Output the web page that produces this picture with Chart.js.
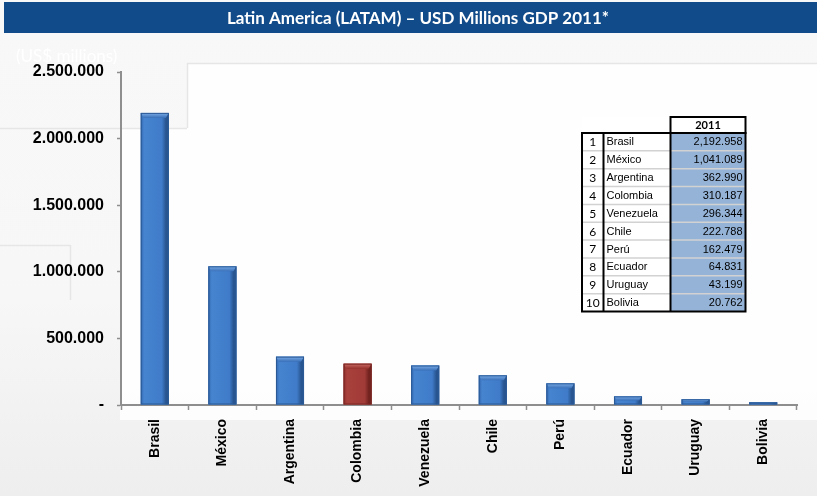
<!DOCTYPE html>
<html>
<head>
<meta charset="utf-8">
<title>Latin America (LATAM) – USD Millions GDP 2011*</title>
<script src="https://cdn.jsdelivr.net/npm/chart.js@4/dist/chart.umd.min.js"></script>
<style>
  html, body { margin: 0; padding: 0; background: #f7f7f7; overflow: hidden; }
  #wrap { width: 817px; height: 496px; position: relative; }
  canvas { display: block; }
</style>
</head>
<body>
<div id="wrap"><canvas id="gdp" width="817" height="496"></canvas></div>
<script>
// Countries and 2011 GDP (USD millions)
const countries = ['Brasil', 'México', 'Argentina', 'Colombia', 'Venezuela', 'Chile', 'Perú', 'Ecuador', 'Uruguay', 'Bolivia'];
const gdp2011 = [2192958, 1041089, 362990, 310187, 296344, 222788, 162479, 64831, 43199, 20762];
const highlighted = 'Colombia';

// Y axis tick labels, from 0 to 2.500.000 in steps of 500.000
const yTickLabels = ['-', '500.000', '1.000.000', '1.500.000', '2.000.000', '2.500.000'];

const titleText = 'Latin America (LATAM) – USD Millions GDP 2011*';
const unitText = '(US$ millions)';
const tableYear = '2011';

// "2,192.958" style used in the ranking table
function tableNumber(v) {
  const millions = Math.floor(v / 1000000);
  const thousands = Math.floor((v % 1000000) / 1000);
  const units = v % 1000;
  const pad = n => String(n).padStart(3, '0');
  if (millions > 0) return millions + ',' + pad(thousands) + '.' + pad(units);
  return thousands + '.' + pad(units);
}

const BLUE = { base: '#3f7bc8', edgeL: '#3367ad', mid: '#4684d0', edgeR: '#28548f', cap: '#7aade8', capLow: '#3a70b8', line: '#2b5a96' };
const RED  = { base: '#a13b37', edgeL: '#8c2f2c', mid: '#a8403b', edgeR: '#72221f', cap: '#cc6a64', capLow: '#96332f', line: '#7a2724' };
const paletteFor = name => (name === highlighted ? RED : BLUE);

// Page backdrop, title band and unit caption
const backdrop = {
  id: 'backdrop',
  beforeDraw(chart) {
    const ctx = chart.ctx;
    const W = chart.width, H = chart.height;
    ctx.save();
    const g = ctx.createLinearGradient(0, 0, 0, H);
    g.addColorStop(0, '#f8f8f8');
    g.addColorStop(0.6, '#f7f7f7');
    g.addColorStop(1, '#eeeeee');
    ctx.fillStyle = g;
    ctx.fillRect(0, 0, W, H);

    // lighter panel behind the plot
    ctx.fillStyle = 'rgba(255,255,255,0.85)';
    ctx.beginPath();
    ctx.moveTo(187, 63); ctx.lineTo(W, 63); ctx.lineTo(W, 420);
    ctx.lineTo(120, 420); ctx.lineTo(120, 128); ctx.lineTo(187, 128);
    ctx.closePath();
    ctx.fill();

    ctx.strokeStyle = '#e6e6e6';
    ctx.lineWidth = 1.5;
    ctx.beginPath();
    ctx.moveTo(187, 63.5); ctx.lineTo(W, 63.5);
    ctx.moveTo(187.5, 63); ctx.lineTo(187.5, 128);
    ctx.moveTo(0, 128.5); ctx.lineTo(187, 128.5);
    ctx.moveTo(0, 245.5); ctx.lineTo(70, 245.5);
    ctx.moveTo(70.5, 245); ctx.lineTo(70.5, 300);
    ctx.stroke();

    // title band
    ctx.fillStyle = '#124b89';
    ctx.fillRect(4, 2, W - 4, 31);
    let size = 20;
    ctx.font = 'bold ' + size + 'px Lato, "Open Sans", sans-serif';
    while (ctx.measureText(titleText).width > 384 && size > 10) {
      size -= 0.25;
      ctx.font = 'bold ' + size + 'px Lato, "Open Sans", sans-serif';
    }
    ctx.fillStyle = '#ffffff';
    ctx.textAlign = 'center';
    ctx.textBaseline = 'middle';
    ctx.fillText(titleText, 418, 19);

    // faint unit caption
    ctx.font = '17px Lato, "Open Sans", sans-serif';
    ctx.textAlign = 'left';
    ctx.fillStyle = '#ffffff';
    ctx.fillText(unitText, 16, 57);
    ctx.restore();
  }
};

// Bevelled shading on each bar, using the bar geometry from the chart
const bevel = {
  id: 'bevel',
  afterDatasetsDraw(chart) {
    const ctx = chart.ctx;
    const meta = chart.getDatasetMeta(0);
    ctx.save();
    meta.data.forEach((bar, i) => {
      const p = paletteFor(countries[i]);
      const w = bar.width;
      const l = bar.x - w / 2, r = bar.x + w / 2;
      const t = Math.min(bar.y, bar.base), b = Math.max(bar.y, bar.base);
      const h = b - t;
      const g = ctx.createLinearGradient(l, 0, r, 0);
      g.addColorStop(0, p.edgeL);
      g.addColorStop(0.12, p.mid);
      g.addColorStop(0.75, p.base);
      g.addColorStop(0.9, p.edgeR);
      g.addColorStop(1, p.edgeR);
      ctx.fillStyle = g;
      ctx.fillRect(l, t, w, h);
      // top cap
      const cap = Math.min(5, h / 2);
      const cg = ctx.createLinearGradient(0, t, 0, t + cap);
      cg.addColorStop(0, p.cap);
      cg.addColorStop(1, p.capLow);
      ctx.fillStyle = cg;
      ctx.beginPath();
      ctx.moveTo(l, t); ctx.lineTo(r, t);
      ctx.lineTo(r - 3, t + cap); ctx.lineTo(l + 3, t + cap);
      ctx.closePath();
      ctx.fill();
      ctx.strokeStyle = p.line;
      ctx.lineWidth = 1;
      ctx.strokeRect(l + 0.5, t + 0.5, w - 1, h - 1);
    });
    ctx.restore();
  }
};

// Ranking table in the upper right
const rankingTable = {
  id: 'rankingTable',
  afterDraw(chart) {
    const ctx = chart.ctx;
    const x0 = 582, xRank = 603.5, xName = 670.5, x1 = 745.5;
    const yHead = 117, yBody = 133, rowH = 17.85;
    const yEnd = yBody + rowH * countries.length;
    ctx.save();
    ctx.fillStyle = '#ffffff';
    ctx.fillRect(x0, yHead, x1 - x0, yEnd - yHead);
    ctx.fillStyle = '#95b3d7';
    ctx.fillRect(xName, yBody, x1 - xName, yEnd - yBody);

    // row separators
    ctx.strokeStyle = '#d2d2d2';
    ctx.lineWidth = 1.5;
    ctx.beginPath();
    for (let i = 1; i < countries.length; i++) {
      const y = yBody + rowH * i;
      ctx.moveTo(x0, y); ctx.lineTo(x1, y);
    }
    ctx.stroke();

    ctx.strokeStyle = '#000000';
    ctx.lineWidth = 2;
    ctx.strokeRect(xName, yHead, x1 - xName, yBody - yHead);
    ctx.strokeRect(x0, yBody, x1 - x0, yEnd - yBody);
    ctx.beginPath();
    ctx.moveTo(xRank, yBody); ctx.lineTo(xRank, yEnd);
    ctx.moveTo(xName, yBody); ctx.lineTo(xName, yEnd);
    ctx.stroke();

    ctx.fillStyle = '#000000';
    ctx.textBaseline = 'middle';
    ctx.font = 'bold 11px Lato, "Open Sans", sans-serif';
    ctx.textAlign = 'center';
    ctx.fillText(tableYear, (xName + x1) / 2, (yHead + yBody) / 2 + 0.5);

    countries.forEach((name, i) => {
      const cy = yBody + rowH * (i + 0.5) + 0.5;
      ctx.font = '12px Lato, "Open Sans", sans-serif';
      ctx.textAlign = 'center';
      ctx.fillText(String(i + 1), (x0 + xRank) / 2, cy);
      ctx.font = '11px "Liberation Sans", Arial, sans-serif';
      ctx.textAlign = 'left';
      ctx.fillText(name, xRank + 3, cy);
      ctx.textAlign = 'right';
      ctx.fillText(tableNumber(gdp2011[i]), x1 - 3, cy);
    });
    ctx.restore();
  }
};

const axisGray = '#8e8e8e';

new Chart(document.getElementById('gdp'), {
  type: 'bar',
  data: {
    labels: countries,
    datasets: [{
      label: 'GDP 2011',
      data: gdp2011,
      backgroundColor: countries.map(c => paletteFor(c).base),
      borderWidth: 0,
      categoryPercentage: 1,
      barPercentage: 0.415
    }]
  },
  options: {
    responsive: false,
    animation: false,
    devicePixelRatio: 1,
    layout: { padding: { top: 72, right: 20, bottom: 0, left: 0 } },
    plugins: {
      legend: { display: false },
      tooltip: { enabled: false },
      title: { display: false }
    },
    scales: {
      x: {
        grid: {
          display: true,
          offset: true,
          drawOnChartArea: false,
          drawTicks: true,
          tickLength: 5,
          tickWidth: 1.5,
          color: axisGray
        },
        border: { display: true, color: axisGray, width: 2 },
        ticks: {
          autoSkip: false,
          minRotation: 90,
          maxRotation: 90,
          padding: 9,
          color: '#000000',
          font: { family: '"Liberation Sans", Arial, sans-serif', size: 14, weight: 'bold' }
        },
        afterFit(scale) { scale.height = 91; }
      },
      y: {
        min: 0,
        max: 2500000,
        grid: {
          display: true,
          drawOnChartArea: false,
          drawTicks: true,
          tickLength: 4,
          tickWidth: 1.5,
          color: axisGray
        },
        border: { display: true, color: axisGray, width: 2 },
        ticks: {
          stepSize: 500000,
          padding: 13,
          color: '#000000',
          font: { family: '"Liberation Sans", Arial, sans-serif', size: 16, weight: 'bold' },
          callback: (value, index) => yTickLabels[index]
        },
        afterFit(scale) { scale.width = 121; }
      }
    }
  },
  plugins: [backdrop, bevel, rankingTable]
});
</script>
</body>
</html>
